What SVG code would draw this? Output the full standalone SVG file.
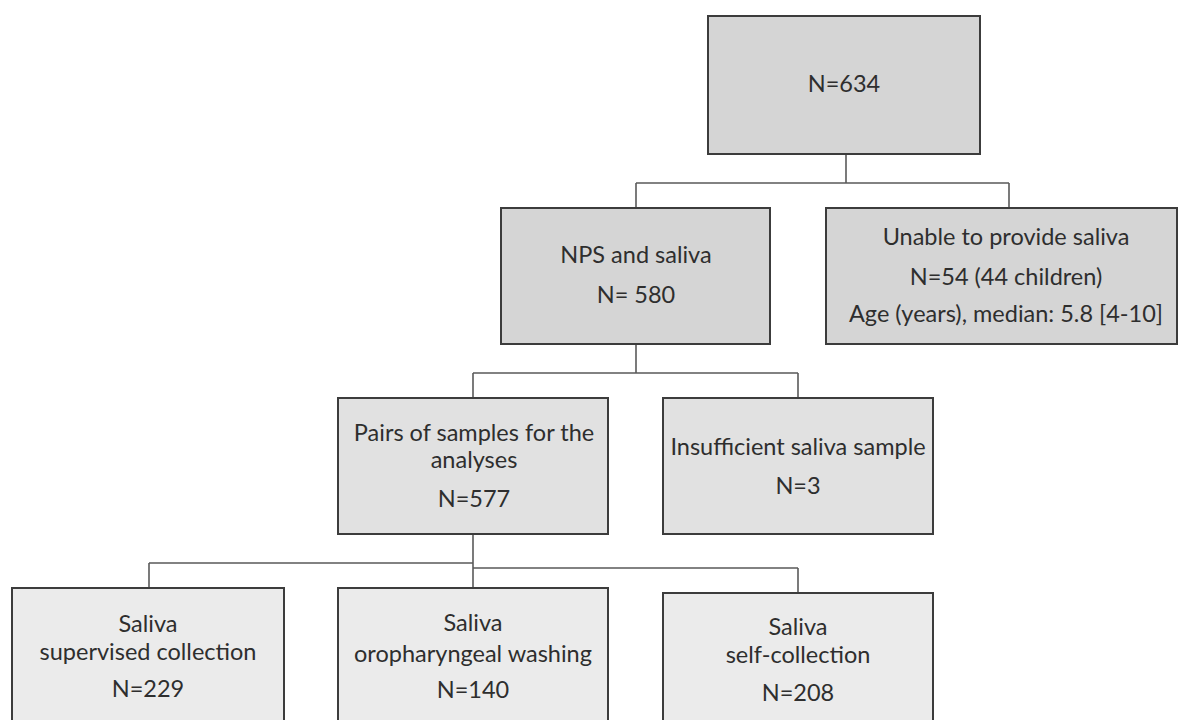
<svg xmlns="http://www.w3.org/2000/svg" width="1181" height="720" viewBox="0 0 1181 720">
<style>
.box{stroke:#3c3c3c;stroke-width:2}
.l1{fill:#d5d5d5}
.l2{fill:#e1e1e1}
.l3{fill:#ebebeb}
.t{font-family:Lato,"Open Sans","Liberation Sans",sans-serif;font-size:23.5px;fill:#2e2e2e;text-anchor:middle}
.c{fill:none;stroke:#5a5a5a;stroke-width:1.6}
</style>
<rect width="1181" height="720" fill="#ffffff"/>
<g id="connectors">
<path class="c" d="M846 154V183M636 183H1009M636 183V208M1009 183V208"/>
<path class="c" d="M636 344V373M473 373H798M473 373V398M798 373V398"/>
<path class="c" d="M473 534V588M149 563H473M149 563V588M473 568H798M798 568V593"/>
</g>
<g id="n634">
<rect class="box l1" x="708" y="16" width="272" height="138"/>
<text class="t" x="844" y="92">N=634</text>
</g>
<g id="nps">
<rect class="box l1" x="501" y="208" width="269" height="136"/>
<text class="t" x="636" y="263">NPS and saliva</text>
<text class="t" x="636" y="303">N= 580</text>
</g>
<g id="unable">
<rect class="box l1" x="826" y="208" width="351" height="136"/>
<text class="t" x="1006" y="245">Unable to provide saliva</text>
<text class="t" x="1006" y="285">N=54 (44 children)</text>
<text class="t" x="1006" y="322">Age (years), median: 5.8 [4-10]</text>
</g>
<g id="pairs">
<rect class="box l2" x="338" y="398" width="270" height="136"/>
<text class="t" x="474" y="441">Pairs of samples for the</text>
<text class="t" x="474" y="468">analyses</text>
<text class="t" x="474" y="507">N=577</text>
</g>
<g id="insufficient">
<rect class="box l2" x="663" y="398" width="270" height="136"/>
<text class="t" x="798" y="455">Insufficient saliva sample</text>
<text class="t" x="798" y="494">N=3</text>
</g>
<g id="supervised">
<rect class="box l3" x="12" y="588" width="272" height="142"/>
<text class="t" x="148" y="632">Saliva</text>
<text class="t" x="148" y="660">supervised collection</text>
<text class="t" x="148" y="697">N=229</text>
</g>
<g id="oropharyngeal">
<rect class="box l3" x="338" y="588" width="270" height="142"/>
<text class="t" x="473" y="631">Saliva</text>
<text class="t" x="473" y="662">oropharyngeal washing</text>
<text class="t" x="473" y="698">N=140</text>
</g>
<g id="self">
<rect class="box l3" x="663" y="593" width="270" height="140"/>
<text class="t" x="798" y="635">Saliva</text>
<text class="t" x="798" y="663">self-collection</text>
<text class="t" x="798" y="701">N=208</text>
</g>
</svg>
